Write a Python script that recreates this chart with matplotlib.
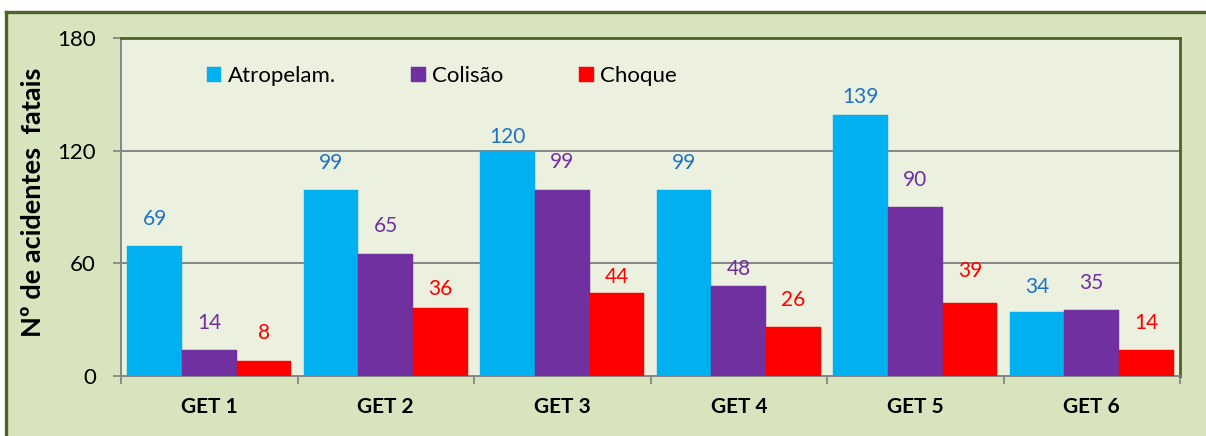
"""Fatal accidents by GET group, grouped bar chart."""

import matplotlib
matplotlib.use("Agg")
import matplotlib.pyplot as plt
import numpy as np
from matplotlib.lines import Line2D
from matplotlib.patches import Rectangle

groups = ["GET 1", "GET 2", "GET 3", "GET 4", "GET 5", "GET 6"]
series_names = ["Atropelam.", "Colisão", "Choque"]
atropelam = [69, 99, 120, 99, 139, 34]
colisao = [14, 65, 99, 48, 90, 35]
choque = [8, 36, 44, 26, 39, 14]
y_ticks = [0, 60, 120, 180]

# styling
bar_colors = ["#00B0F0", "#7030A0", "#FF0000"]
label_colors = ["#1F72C4", "#7030A0", "#FF0000"]
# label gaps above bar tops (pixels), as placed in the original
label_gaps = [
    [27, 27, 14, 27, 18, 25],
    [27, 28, 28, 17, 27, 27],
    [28, 19, 16, 27, 32, 27],
]
FONT = "Lato"
FRAME = "#4F6228"
W, H = 1206, 436

fig = plt.figure(figsize=(W / 100, H / 100), dpi=100)
fig.patch.set_facecolor("white")

# outer chart frame, cut off at right and bottom in the original
fx, fy = 6 / W, 1 - 12 / H
fig.patches.append(Rectangle((fx, -0.1), 1.2, fy + 0.1, transform=fig.transFigure,
                             facecolor="#D7E4BD", edgecolor="none", zorder=-5))
fig.lines.append(Line2D([fx, 1.2], [fy, fy], transform=fig.transFigure, color=FRAME, linewidth=2.4))
fig.lines.append(Line2D([fx, fx], [-0.1, fy], transform=fig.transFigure, color=FRAME, linewidth=2.4))

left, right, top, bottom = 121, 1180, 38, 376
ax = fig.add_axes([left / W, (H - bottom) / H, (right - left) / W, (bottom - top) / H])
ax.set_facecolor("#EBF1DE")

x = np.arange(len(groups))
width = 0.309
all_series = [atropelam, colisao, choque]
for i, (vals, name) in enumerate(zip(all_series, series_names)):
    pos = x + (i - 1) * width
    ax.bar(pos, vals, width=width, color=bar_colors[i], label=name, zorder=3,
           edgecolor=bar_colors[i], linewidth=0.3)
    for px, v, gap in zip(pos, vals, label_gaps[i]):
        ax.annotate(str(v), xy=(px, v), xytext=(0, gap * 0.72), textcoords="offset points",
                    ha="center", va="center", fontsize=15, color=label_colors[i],
                    family=FONT, zorder=4)

ax.set_xlim(-0.5, len(groups) - 0.5)
ax.set_ylim(0, 180)
ax.set_yticks(y_ticks)
ax.set_yticklabels([str(t) for t in y_ticks], fontsize=16, family=FONT)
ax.tick_params(axis="y", length=6, width=1.3, color="#868686", pad=12, direction="out")

ax.set_xticks(x)
ax.set_xticklabels(groups, fontsize=15, fontweight="bold", family=FONT)
ax.set_xticks(np.arange(len(groups) + 1) - 0.5, minor=True)
ax.tick_params(axis="x", which="major", length=0, pad=15)
ax.tick_params(axis="x", which="minor", length=6, width=1.3, color="#868686", direction="out")

for g in y_ticks[1:-1]:
    ax.axhline(g, color="#868686", linewidth=1.4, zorder=1)

for side in ["top", "right"]:
    ax.spines[side].set_color(FRAME)
    ax.spines[side].set_linewidth(2)
for side in ["left", "bottom"]:
    ax.spines[side].set_color("#868686")
    ax.spines[side].set_linewidth(1.4)

fig.text(33 / W, 1 - 202 / H, "Nº de acidentes  fatais", rotation=90, ha="center", va="center",
         fontsize=19.5, fontweight="bold", family=FONT)

ax.legend(loc="upper left", bbox_to_anchor=((215 - left) / (right - left) - 0.008, 1 - 28 / (bottom - top)),
          ncol=3, frameon=False, prop={"family": FONT, "size": 16},
          handlelength=0.65, handleheight=0.65, handletextpad=0.3, columnspacing=3.4,
          borderaxespad=0, borderpad=0)

fig.savefig("out.png", dpi=100)
